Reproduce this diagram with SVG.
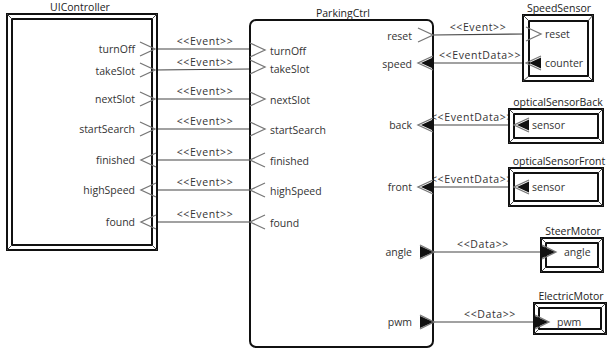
<svg xmlns="http://www.w3.org/2000/svg" xmlns:xlink="http://www.w3.org/1999/xlink" width="608" height="350" viewBox="0 0 608 350">
<style>
text{font-family:"Open Sans","DejaVu Sans",sans-serif;font-size:10.5px;fill:#333}
.title{font-size:10.5px;fill:#222}
.frameO{fill:#fff;stroke:#111;stroke-width:2}
.frameI{fill:#fff;stroke:#111;stroke-width:2}
.bev{stroke:#444;stroke-width:1;fill:none}
.conn line{stroke:#444;stroke-width:1.2}
.conn text{letter-spacing:0.6px}
.ch{fill:none;stroke:#777;stroke-width:1.3}
.tri{fill:#111;stroke:none}
.r{text-anchor:end}
.m{text-anchor:middle}
</style>
<defs>
<g id="outR"><path class="ch" d="M0,-7 L15,0 L0,7"/></g>
<g id="inL"><path class="ch" d="M15,-7 L0,0 L15,7"/></g>
<g id="fillL"><path class="ch" d="M15,-7 L0,0 L15,7"/><path class="tri" d="M3,0 L15,-5.5 L15,5.5 Z"/></g>
<g id="fillR"><path class="ch" d="M0,-7 L14,0 L0,7"/><path class="tri" d="M0,-6 L13,0 L0,6 Z"/></g>
</defs>
<rect width="608" height="350" fill="#fff"/>

<g id="connectors" class="conn">
<line x1="155" y1="49" x2="250" y2="49"/>
<line x1="155" y1="70" x2="250" y2="69"/>
<line x1="155" y1="99" x2="250" y2="99"/>
<line x1="155" y1="129" x2="250" y2="129"/>
<line x1="155" y1="160" x2="250" y2="160"/>
<line x1="155" y1="190" x2="250" y2="190"/>
<line x1="155" y1="222" x2="250" y2="222"/>
<line x1="433" y1="35" x2="527" y2="34"/>
<line x1="433" y1="63" x2="527" y2="63"/>
<line x1="433" y1="125" x2="514" y2="125"/>
<line x1="433" y1="187" x2="514" y2="187"/>
<line x1="433" y1="252" x2="541" y2="252"/>
<line x1="433" y1="322" x2="534" y2="322"/>
<text class="m" x="205" y="45">&lt;&lt;Event&gt;&gt;</text>
<text class="m" x="205" y="66">&lt;&lt;Event&gt;&gt;</text>
<text class="m" x="205" y="95">&lt;&lt;Event&gt;&gt;</text>
<text class="m" x="205" y="125">&lt;&lt;Event&gt;&gt;</text>
<text class="m" x="205" y="156">&lt;&lt;Event&gt;&gt;</text>
<text class="m" x="205" y="186">&lt;&lt;Event&gt;&gt;</text>
<text class="m" x="205" y="218">&lt;&lt;Event&gt;&gt;</text>
<text class="m" x="478" y="31">&lt;&lt;Event&gt;&gt;</text>
<text class="m" x="480" y="59">&lt;&lt;EventData&gt;&gt;</text>
<text class="m" x="472" y="121">&lt;&lt;EventData&gt;&gt;</text>
<text class="m" x="472" y="183">&lt;&lt;EventData&gt;&gt;</text>
<text class="m" x="483" y="248">&lt;&lt;Data&gt;&gt;</text>
<text class="m" x="490" y="318">&lt;&lt;Data&gt;&gt;</text>
</g>

<g id="UIController">
<rect class="frameO" x="7" y="14" width="150" height="236"/>
<rect class="frameI" x="12" y="19" width="140" height="226"/>
<path class="bev" d="M7,14 L12,19 M157,14 L152,19 M7,250 L12,245 M157,250 L152,245"/>
<text class="title m" x="80" y="11">UIController</text>
<use xlink:href="#outR" x="140" y="49"/>
<use xlink:href="#outR" x="140" y="70"/>
<use xlink:href="#outR" x="140" y="99"/>
<use xlink:href="#outR" x="140" y="129"/>
<use xlink:href="#inL" x="141" y="160"/>
<use xlink:href="#inL" x="141" y="190"/>
<use xlink:href="#inL" x="141" y="222"/>
<text class="r" x="135" y="53">turnOff</text>
<text class="r" x="135" y="75">takeSlot</text>
<text class="r" x="135" y="103">nextSlot</text>
<text class="r" x="135" y="133">startSearch</text>
<text class="r" x="135" y="164">finished</text>
<text class="r" x="135" y="194">highSpeed</text>
<text class="r" x="135" y="226">found</text>
</g>

<g id="ParkingCtrl">
<rect x="250" y="20" width="183" height="327" rx="6" fill="#fff" stroke="#111" stroke-width="2"/>
<text class="title m" x="343" y="17">ParkingCtrl</text>
<use xlink:href="#outR" x="250" y="50"/>
<use xlink:href="#outR" x="250" y="67"/>
<use xlink:href="#outR" x="250" y="99"/>
<use xlink:href="#outR" x="250" y="129"/>
<use xlink:href="#inL" x="250" y="160"/>
<use xlink:href="#inL" x="250" y="190"/>
<use xlink:href="#inL" x="250" y="222"/>
<text x="270" y="55">turnOff</text>
<text x="270" y="73">takeSlot</text>
<text x="270" y="104">nextSlot</text>
<text x="270" y="134">startSearch</text>
<text x="270" y="165">finished</text>
<text x="270" y="195">highSpeed</text>
<text x="270" y="227">found</text>
<use xlink:href="#outR" x="418" y="35"/>
<use xlink:href="#fillL" x="418" y="63"/>
<use xlink:href="#fillL" x="418" y="125"/>
<use xlink:href="#fillL" x="418" y="187"/>
<use xlink:href="#fillR" x="420" y="252"/>
<use xlink:href="#fillR" x="420" y="322"/>
<text class="r" x="412" y="40">reset</text>
<text class="r" x="412" y="68">speed</text>
<text class="r" x="412" y="129">back</text>
<text class="r" x="412" y="191">front</text>
<text class="r" x="412" y="256">angle</text>
<text class="r" x="412" y="326">pwm</text>
</g>

<g id="SpeedSensor">
<rect class="frameO" x="523" y="15" width="70" height="66"/>
<rect class="frameI" x="529" y="21" width="59" height="55"/>
<path class="bev" d="M523,15 L529,21 M593,15 L588,21 M523,81 L529,76 M593,81 L588,76"/>
<text class="title m" x="559" y="12">SpeedSensor</text>
<use xlink:href="#outR" x="526" y="34"/>
<use xlink:href="#fillL" x="526" y="63"/>
<text x="545" y="38">reset</text>
<text x="545" y="67">counter</text>
</g>

<g id="opticalSensorBack">
<rect class="frameO" x="509" y="109" width="94" height="34"/>
<rect class="frameI" x="514" y="114" width="84" height="24"/>
<path class="bev" d="M509,109 L514,114 M603,109 L598,114 M509,143 L514,138 M603,143 L598,138"/>
<text class="title m" x="558" y="106">opticalSensorBack</text>
<use xlink:href="#fillL" x="514" y="125"/>
<text x="532" y="129">sensor</text>
</g>

<g id="opticalSensorFront">
<rect class="frameO" x="509" y="168" width="94" height="38"/>
<rect class="frameI" x="514" y="173" width="84" height="28"/>
<path class="bev" d="M509,168 L514,173 M603,168 L598,173 M509,206 L514,201 M603,206 L598,201"/>
<text class="title m" x="559" y="165">opticalSensorFront</text>
<use xlink:href="#fillL" x="514" y="187"/>
<text x="532" y="191">sensor</text>
</g>

<g id="SteerMotor">
<rect class="frameO" x="541" y="238" width="62" height="34"/>
<rect class="frameI" x="546" y="243" width="52" height="24"/>
<path class="bev" d="M541,238 L546,243 M603,238 L598,243 M541,272 L546,267 M603,272 L598,267"/>
<text class="title m" x="573" y="235">SteerMotor</text>
<use xlink:href="#fillR" x="542" y="252"/>
<text x="564" y="256">angle</text>
</g>

<g id="ElectricMotor">
<rect class="frameO" x="534" y="303" width="72" height="31"/>
<rect class="frameI" x="539" y="308" width="62" height="21"/>
<path class="bev" d="M534,303 L539,308 M606,303 L601,308 M534,334 L539,329 M606,334 L601,329"/>
<text class="title m" x="571" y="300">ElectricMotor</text>
<use xlink:href="#fillR" x="535" y="322"/>
<text x="557" y="326">pwm</text>
</g>
</svg>
